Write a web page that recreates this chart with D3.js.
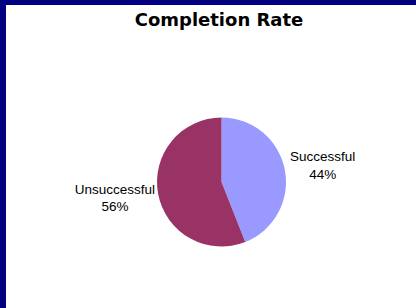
<!DOCTYPE html>
<html><head><meta charset="utf-8">
<script src="https://cdn.jsdelivr.net/npm/d3@7"></script>
<style>html,body{margin:0;padding:0;background:#fff;}svg{display:block;}</style>
</head><body>
<svg id="c" width="416" height="308"></svg>
<script>
const categories = ["Successful", "Unsuccessful"];
const values = [44, 56];
const labels = ["44%", "56%"];
const colors = ["#9999FF", "#993366"];

const svg = d3.select("#c");
const W = 416, H = 308;
svg.append("rect").attr("x",0).attr("y",0).attr("width",W).attr("height",H).attr("fill","#000080");
svg.append("rect").attr("x",6).attr("y",5).attr("width",W-6).attr("height",H-5).attr("fill","#fff");

svg.append("text").attr("x",219).attr("y",26).attr("text-anchor","middle")
  .attr("font-family","DejaVu Sans").attr("font-weight","bold").attr("font-size",18)
  .attr("fill","#000").text("Completion Rate");

const cx = 221.5, cy = 182, r = 64.5;
const pie = d3.pie().sort(null).value(d => d)(values);
const arc = d3.arc().innerRadius(0).outerRadius(r);
const g = svg.append("g").attr("transform",`translate(${cx},${cy})`);
g.selectAll("path").data(pie).join("path").attr("d",arc).attr("fill",(d,i)=>colors[i]);

const labelR = [103, 108.5];
const lineOff = [[-1.7, 15.8], [-8.2, 8.8]];
pie.forEach((d,i)=>{
  const a = (d.startAngle + d.endAngle)/2;
  const x = Math.sin(a)*labelR[i], y = -Math.cos(a)*labelR[i];
  const t = g.append("text").attr("text-anchor","middle")
    .attr("font-family","Liberation Sans, Arial").attr("font-size",13.5).attr("fill","#000");
  t.append("tspan").attr("x",x).attr("y",y+lineOff[i][0]).text(categories[i]);
  t.append("tspan").attr("x",x).attr("y",y+lineOff[i][1]).text(labels[i]);
});
</script>
</body></html>
